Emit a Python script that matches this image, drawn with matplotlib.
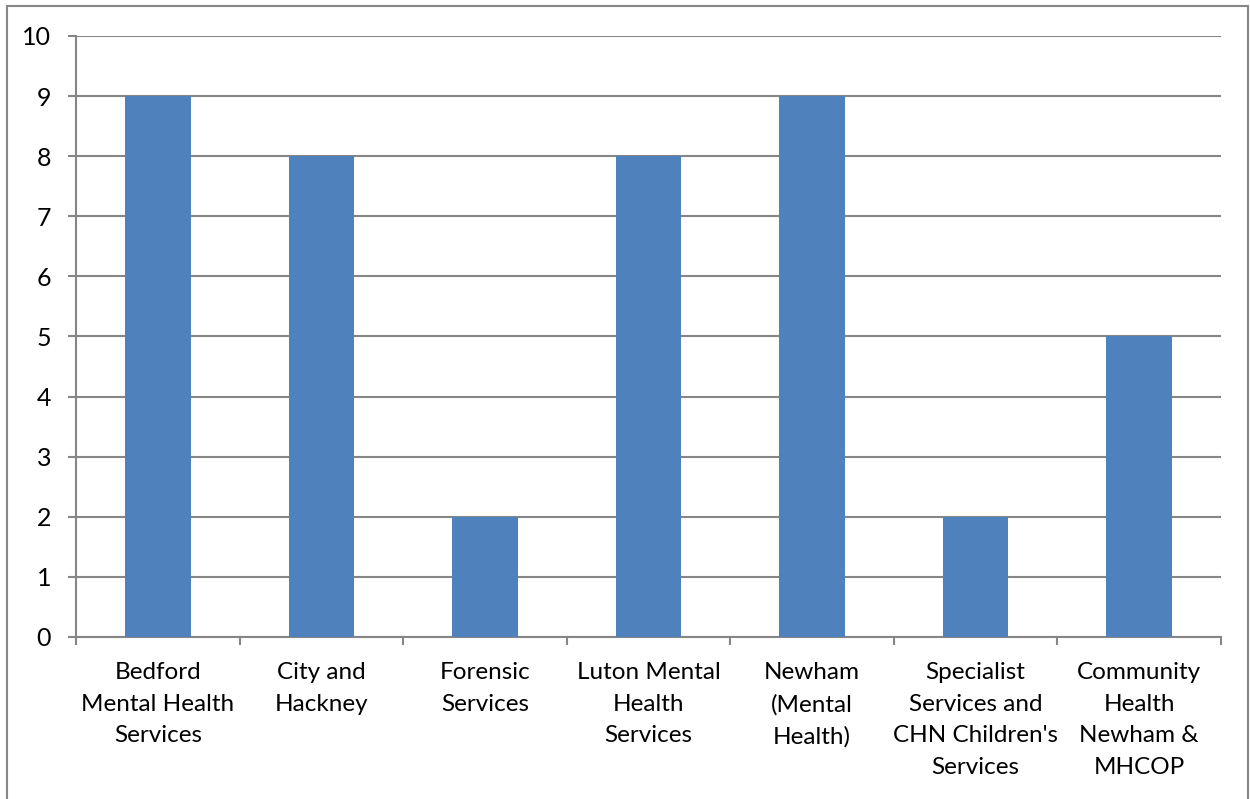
import matplotlib.pyplot as plt
from matplotlib.patches import Rectangle
import numpy as np

categories = ['Bedford\nMental Health\nServices', 'City and\nHackney', 'Forensic\nServices',
              'Luton Mental\nHealth\nServices', 'Newham\n(Mental\nHealth)',
              "Specialist\nServices and\nCHN Children's\nServices", 'Community\nHealth\nNewham &\nMHCOP']
values = [9, 8, 2, 8, 9, 2, 5]
yticks = list(range(0, 11))

plt.rcParams['font.family'] = ['Lato', 'DejaVu Sans']
grid_col = '#868686'

fig = plt.figure(figsize=(12.5, 7.99), dpi=100)
ax = fig.add_axes([0.0608, 0.2028, 0.916, 0.7522])

x = np.arange(len(categories))
ax.bar(x, values, width=0.4, color='#4F81BD', zorder=3)

ax.set_xlim(-0.5, len(categories) - 0.5)
ax.set_ylim(0, 10)
ax.set_yticks(yticks)
ax.yaxis.grid(True, color=grid_col, linewidth=1.5, zorder=0)
ax.tick_params(axis='y', length=6, width=1.5, color=grid_col, labelsize=18, pad=12)

ax.set_xticks(x)
ax.set_xticklabels(categories, fontsize=17.5, linespacing=1.63)
ax.set_xticks(np.arange(-0.5, len(categories)), minor=True)
ax.tick_params(axis='x', which='major', length=0, pad=18)
ax.tick_params(axis='x', which='minor', length=6, width=1.5, color=grid_col)

for s in ['top', 'right']:
    ax.spines[s].set_visible(False)
for s in ['left', 'bottom']:
    ax.spines[s].set_color(grid_col)
    ax.spines[s].set_linewidth(1.5)

# outer chart border
fig.patches.append(Rectangle((7 / 1250, -0.01), 1241 / 1250, 1 - 6 / 799 + 0.01,
                             transform=fig.transFigure, fill=False,
                             edgecolor=grid_col, linewidth=1.5))

fig.savefig('out.png', dpi=100)
